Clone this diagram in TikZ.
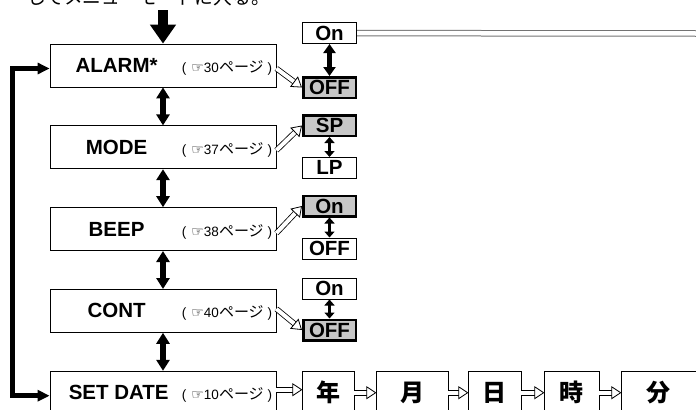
\documentclass[tikz,border=0pt]{standalone}
\usepackage{fontspec}
\setmainfont{Liberation Sans}
\newfontfamily\cjk{Noto Sans CJK JP}
\newfontfamily\pointfont{DejaVu Sans}
\usetikzlibrary{positioning,arrows.meta}

\newcommand{\seepg}[1]{\fontsize{13.5bp}{14bp}\selectfont(\hspace{5bp}{\pointfont\fontsize{14bp}{14bp}\selectfont ☞}#1{\cjk\fontsize{15bp}{15bp}\selectfont ページ}\hspace{4bp})}

\begin{document}
\begin{tikzpicture}[
x=1bp, y=-1bp,
node distance=38bp and 22bp,
menubox/.style={draw, line width=0.8bp, minimum width=226bp, minimum height=43bp, inner sep=0pt},
menulabel/.style={font=\fontsize{20.5bp}{22bp}\selectfont\bfseries, inner sep=0pt},
reflabel/.style={inner sep=0pt},
optbox/.style={draw, line width=0.8bp, fill=white, minimum width=54.2bp, minimum height=21bp, inner sep=0pt, font=\fontsize{20.5bp}{22bp}\selectfont\bfseries},
selbox/.style={optbox, line width=2.5bp, fill=black!22, minimum width=52.5bp, minimum height=20.5bp},
datebox/.style={draw, line width=0.8bp, minimum height=43bp, inner sep=0pt, font=\cjk\fontsize{24bp}{24bp}\selectfont\bfseries},
bigarrow/.style={line width=10bp, -{Triangle[width=25bp,length=19bp]}},
steparrow/.style={line width=6bp, {Triangle[width=13bp,length=11bp]}-{Triangle[width=13bp,length=11bp]}},
pairarrow/.style={line width=4.5bp, {Triangle[width=12bp,length=9bp]}-{Triangle[width=12bp,length=9bp]}},
smallpair/.style={line width=3.5bp, {Triangle[width=10bp,length=6bp]}-{Triangle[width=10bp,length=6bp]}},
looparrow/.style={line width=5.5bp, miter limit=10, {Triangle[width=11bp,length=12bp]}-{Triangle[width=11bp,length=12bp]}},
hollow/.style={line width=0.8bp, double=white, double distance=4bp, -{Triangle[open, fill=white, width=13bp, length=10bp, line width=0.8bp]}},
railline/.style={line width=1bp, draw=black!55, double=white, double distance=4.5bp}
]
\useasboundingbox (0,0) rectangle (696,409);

% lead-in text (cut at the top)
\node[font=\cjk\fontsize{18.7bp}{19bp}\selectfont, anchor=base, inner sep=0pt] (intro) at (148.5,4.7) {してメニューモードに入る。};
\coordinate (entry) at (163,10);

% menu column
\node[menubox] (alarm) at (163,65.5) {};
\node[menubox, below=of alarm] (mode) {};
\node[menubox, below=of mode] (beep) {};
\node[menubox, below=of beep] (cont) {};
\node[menubox, below=of cont] (setdate) {};

\node[menulabel] (alarmtxt) at ([xshift=67bp]alarm.west) {ALARM*};
\node[menulabel] (modetxt) at ([xshift=67bp]mode.west) {MODE};
\node[menulabel] (beeptxt) at ([xshift=67bp]beep.west) {BEEP};
\node[menulabel] (conttxt) at ([xshift=67bp]cont.west) {CONT};
\node[menulabel, anchor=west] (setdatetxt) at ([xshift=19bp]setdate.west) {SET DATE};

\node[reflabel, anchor=base east, xshift=-4bp] (alarmref) at (alarmtxt.base -| alarm.east) {\seepg{30}};
\node[reflabel, anchor=base east, xshift=-4bp] (moderef) at (modetxt.base -| mode.east) {\seepg{37}};
\node[reflabel, anchor=base east, xshift=-4bp] (beepref) at (beeptxt.base -| beep.east) {\seepg{38}};
\node[reflabel, anchor=base east, xshift=-4bp] (contref) at (conttxt.base -| cont.east) {\seepg{40}};
\node[reflabel, anchor=base east, xshift=-4bp] (setdateref) at (setdatetxt.base -| setdate.east) {\seepg{10}};

% settings
\node[selbox] (alarmoff) at (329.5,87.5) {OFF};
\node[optbox, above=32bp of alarmoff] (alarmon) {On};
\node[selbox] (sp) at (329.5,125.5) {SP};
\node[optbox, below=20bp of sp] (lp) {LP};
\node[selbox] (beepon) at (329.5,206) {On};
\node[optbox, below=20bp of beepon] (beepoff) {OFF};
\node[selbox] (contoff) at (329.5,330) {OFF};
\node[optbox, above=19bp of contoff] (conton) {On};
\coordinate (railend) at (700,33.5);

% date row
\node[datebox, minimum width=51.2bp, right=26bp of setdate] (year) {年};
\node[datebox, minimum width=71.2bp, right=of year] (month) {月};
\node[datebox, minimum width=52.2bp, right=20bp of month] (day) {日};
\node[datebox, minimum width=54.2bp, right=23bp of day] (hour) {時};
\node[datebox, minimum width=74.2bp, right=of hour] (minute) {分};

% connectors
\draw[bigarrow] (entry) -- (alarm.north);
\draw[steparrow] (alarm.south) -- (mode.north);
\draw[steparrow] (mode.south) -- (beep.north);
\draw[steparrow] (beep.south) -- (cont.north);
\draw[steparrow] (cont.south) -- (setdate.north);
\draw[looparrow] ([yshift=-3bp]alarm.west) -- ++(-37,0) |- ([yshift=-3bp]setdate.west);

\draw[pairarrow] (alarmon.south) -- (alarmoff.north);
\draw[smallpair] (sp.south) -- (lp.north);
\draw[smallpair] (beepon.south) -- (beepoff.north);
\draw[smallpair] (conton.south) -- (contoff.north);
\draw[railline] (alarmon.east) -- (railend);

\draw[hollow] ([yshift=-3bp]alarm.east) -- (alarmoff.west);
\draw[hollow] ([yshift=-3bp]mode.east) -- (sp.west);
\draw[hollow] ([yshift=-4bp]beep.east) -- (beepon.west);
\draw[hollow] ([yshift=2bp]cont.east) -- (contoff.west);

\draw[hollow] ([yshift=3bp]setdate.east) -- ([yshift=3bp]year.west);
\draw[hollow] (year.east) -- (month.west);
\draw[hollow] (month.east) -- (day.west);
\draw[hollow] (day.east) -- (hour.west);
\draw[hollow] (hour.east) -- (minute.west);
\end{tikzpicture}
\end{document}
